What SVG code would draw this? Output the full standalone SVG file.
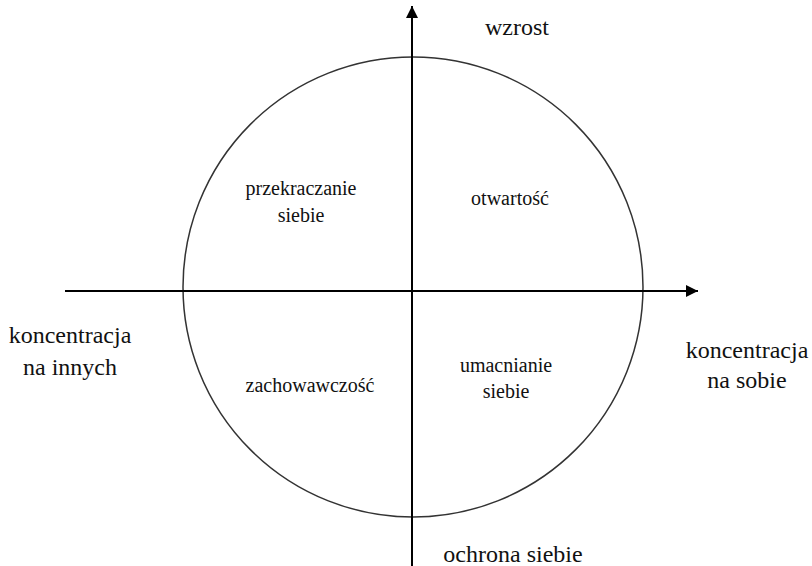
<svg xmlns="http://www.w3.org/2000/svg" width="812" height="566" viewBox="0 0 812 566">
<style>
.t{fill:#111;text-anchor:middle}
.o{font-size:24px}
.i{font-size:20px}
.ln{stroke:#000;stroke-width:2;fill:none}
</style>
<defs>
<marker id="ah" viewBox="0 0 10 10" refX="10" refY="5" markerWidth="14" markerHeight="12" markerUnits="userSpaceOnUse" orient="auto">
<path d="M0,0 L10,5 L0,10 z" fill="#000"/>
</marker>
</defs>
<rect width="812" height="566" fill="#fff"/>
<g id="circle">
<circle cx="413" cy="287" r="230" fill="none" stroke="#333" stroke-width="1.5"/>
</g>
<g id="connectors">
<line class="ln" x1="65" y1="291" x2="698" y2="291" marker-end="url(#ah)"/>
<line class="ln" x1="412" y1="566" x2="412" y2="6" marker-end="url(#ah)"/>
</g>
<g font-family="Liberation Serif, DejaVu Serif, serif">
<g id="wzrost"><text class="t o" x="517" y="35">wzrost</text></g>
<g id="ochrona"><text class="t o" x="513" y="562">ochrona siebie</text></g>
<g id="konc-inni"><text class="t o" x="70" y="343">koncentracja</text><text class="t o" x="70" y="375">na innych</text></g>
<g id="konc-sobie"><text class="t o" x="747" y="358">koncentracja</text><text class="t o" x="747" y="388">na sobie</text></g>
<g id="przekraczanie"><text class="t i" x="301" y="195">przekraczanie</text><text class="t i" x="301" y="222">siebie</text></g>
<g id="otwartosc"><text class="t i" x="510" y="205">otwartość</text></g>
<g id="zachowawczosc"><text class="t i" x="310" y="392">zachowawczość</text></g>
<g id="umacnianie"><text class="t i" x="506" y="372">umacnianie</text><text class="t i" x="506" y="398">siebie</text></g>
</g>
</svg>
